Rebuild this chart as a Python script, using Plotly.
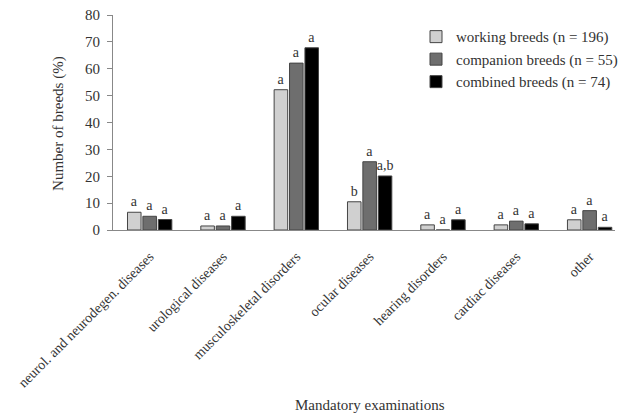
import plotly.graph_objects as go

categories = ["neurol. and neurodegen. diseases", "urological diseases", "musculoskeletal disorders",
              "ocular diseases", "hearing disorders", "cardiac diseases", "other"]
series_names = ["working breeds (n = 196)", "companion breeds (n = 55)", "combined breeds (n = 74)"]
working = [6.6, 1.5, 52.2, 10.5, 1.9, 1.9, 3.8]
companion = [5.1, 1.5, 62.1, 25.4, 0.0, 3.3, 7.2]
combined = [3.9, 5.1, 67.8, 20.1, 3.8, 2.3, 1.0]
working_letters = ["a", "a", "a", "b", "a", "a", "a"]
companion_letters = ["a", "a", "a", "a", "a", "a", "a"]
combined_letters = ["a", "a", "a", "a,b", "a", "a", "a"]

colors = ["#d0d0d0", "#6e6e6e", "#000000"]
FONT = "Liberation Serif"
TXT = "#333333"

fig = go.Figure()
for name, vals, letters, col in zip(series_names, [working, companion, combined],
                                    [working_letters, companion_letters, combined_letters], colors):
    fig.add_trace(go.Bar(
        x=categories, y=vals, name=name, text=letters,
        textposition="outside", cliponaxis=False, constraintext="none", textangle=0,
        textfont=dict(family=FONT, size=14, color=TXT),
        marker=dict(color=col, line=dict(color="#444444", width=1)),
    ))

fig.update_layout(
    width=623, height=417,
    margin=dict(l=113, r=0, t=15, b=187),
    paper_bgcolor="white", plot_bgcolor="white",
    barmode="group", bargap=0.37, bargroupgap=0.12,
    font=dict(family=FONT, size=15, color=TXT),
    showlegend=True,
    legend=dict(x=(421 - 113) / 510, y=0.975, xanchor="left", yanchor="top",
                font=dict(family=FONT, size=15, color=TXT),
                bgcolor="rgba(0,0,0,0)", itemwidth=30, tracegroupgap=0),
    xaxis=dict(
        range=[-0.5, 6.346], tickangle=-45, showline=True, linecolor="#888888", linewidth=1,
        ticks="", showgrid=False, tickfont=dict(family=FONT, size=14, color=TXT),
        ticklabelstandoff=12,
        automargin=False,
    ),
    yaxis=dict(
        range=[0, 80], dtick=10, showline=True, linecolor="#888888", linewidth=1,
        ticks="outside", ticklen=5, tickcolor="#888888", showgrid=False, zeroline=False,
        tickfont=dict(family=FONT, size=15, color=TXT), ticklabelstandoff=4,
        automargin=False,
    ),
    annotations=[
        dict(text="Mandatory examinations", xref="paper", yref="paper",
             x=(374 - 113) / 510, y=-(405 - 230) / 215, xanchor="center", yanchor="middle",
             showarrow=False, font=dict(family=FONT, size=15, color=TXT)),
        dict(text="Number of breeds (%)", xref="paper", yref="paper",
             x=(57 - 113) / 510, y=(230 - 123) / 215, xanchor="center", yanchor="middle",
             textangle=-90, showarrow=False, font=dict(family=FONT, size=15, color=TXT)),
    ],
)
fig.write_html("out.html", config={"displayModeBar": False},
               post_script="document.body.style.margin='0px';")
